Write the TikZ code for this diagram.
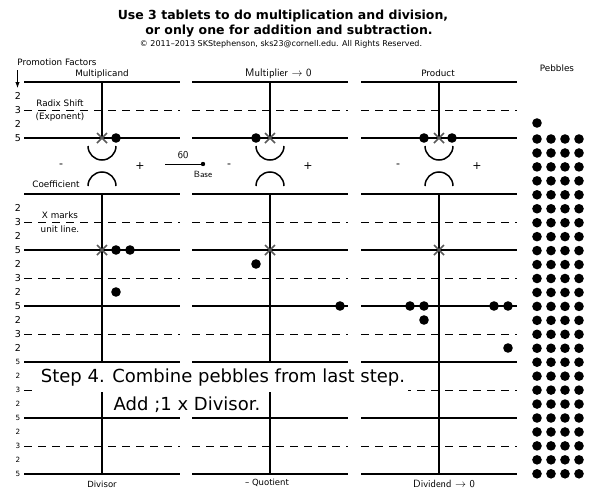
\documentclass[tikz,border=0pt]{standalone}
\usepackage{fontspec}
\setmainfont{DejaVu Sans}
\usetikzlibrary{arrows.meta}
\begin{document}
\begin{tikzpicture}[x=1pt,y=-1pt,
  solidln/.style={line width=1.5pt},
  dashln/.style={line width=0.9pt, dash pattern=on 7.5pt off 6.5pt},
  lbl/.style={inner sep=0pt, font=\fontsize{8.8}{10}\selectfont},
  lms/.style={inner sep=0pt, font=\sffamily\fontsize{11}{12}\selectfont},
  dig/.style={inner sep=0pt, font=\fontsize{9.5}{10}\selectfont},
  digs/.style={inner sep=0pt, font=\fontsize{7.2}{8}\selectfont},
  sgn/.style={inner sep=0pt, font=\fontsize{11}{12}\selectfont},
  xmk/.style={line width=1.5pt, draw=black!65},
  stepbox/.style={fill=white, inner ysep=0pt, font=\fontsize{18}{20}\selectfont}
]
\useasboundingbox (0,0) rectangle (598,493);
% title
\node[inner sep=0pt, font=\bfseries\fontsize{12.5}{14}\selectfont] (t1) at (283,16) {Use 3 tablets to do multiplication and division,};
\node[inner sep=0pt, font=\bfseries\fontsize{12.5}{14}\selectfont] (t2) at (289,31) {or only one for addition and subtraction.};
\node[inner sep=0pt, font=\fontsize{8}{9}\selectfont] (cr) at (281,44) {© 2011–2013 SKStephenson, sks23@cornell.edu. All Rights Reserved.};
% headers
\node[lbl] (pf) at (57,62) {Promotion Factors};
\coordinate (pfa) at (17.5,70);
\coordinate (pfb) at (17.5,88);
\draw[line width=0.9pt, -{Latex[length=6pt,width=4.5pt]}] (pfa) -- (pfb);
\node[lbl] (h1) at (102,74) {Multiplicand};
\node[lms, anchor=west] (h2) at (245,74) {Multiplier $\rightarrow$ 0};
\node[lbl] (h3) at (438,73) {Product};
\node[lbl] (h4) at (557,68) {Pebbles};
% tablets
\foreach \cx in {102,270,439} {
  \draw[solidln] (\cx-78,82) -- (\cx+78,82);
  \draw[dashln] (\cx-78,110) -- (\cx+78,110);
  \draw[solidln] (\cx-78,138) -- (\cx+78,138);
  \draw[solidln] (\cx,82) -- (\cx,138);
  \draw[line width=1.5pt] (\cx-14,146) arc[start angle=180, end angle=0, radius=14];
  \draw[line width=1.5pt] (\cx-14,186) arc[start angle=180, end angle=360, radius=14];
  \foreach \yy in {194,250,306,362,418,474} {\draw[solidln] (\cx-78,\yy) -- (\cx+78,\yy);}
  \foreach \yy in {222,278,334,390,446} {\draw[dashln] (\cx-78,\yy) -- (\cx+78,\yy);}
  \draw[solidln] (\cx,194) -- (\cx,474);
  \draw[xmk] (\cx-5,133) -- (\cx+5,143) (\cx-5,143) -- (\cx+5,133);
  \draw[xmk] (\cx-5,245) -- (\cx+5,255) (\cx-5,255) -- (\cx+5,245);
  \node[sgn] at (\cx-41,166) {-};
  \node[sgn] at (\cx+38,166) {+};
}
% left labels
\node[lbl] (rs1) at (60,103) {Radix Shift};
\node[lbl] (rs2) at (60,117) {(Exponent)};
\node[lbl] (coef) at (56,184) {Coefficient};
\node[lbl] (xm1) at (60,215) {X marks};
\node[lbl] (xm2) at (60,229) {unit line.};
\foreach \yy/\d in {96/2,110/3,124/2,138/5,208/2,222/3,236/2,250/5,264/2,278/3,292/2,306/5,320/2,334/3,348/2} {
  \node[dig] at (18,\yy) {\d};
}
\foreach \yy/\d in {362/5,376/2,390/3,404/2,418/5,432/2,446/3,460/2,474/5} {
  \node[digs] at (18,\yy) {\d};
}
% base
\node[inner sep=0pt, font=\sffamily\fontsize{10.5}{12}\selectfont] (sixty) at (183,155) {60};
\fill (203,164) circle (2.2);
\coordinate (bs) at (165,164);
\coordinate (be) at (203,164);
\draw[line width=0.8pt] (bs) -- (be);
\node[inner sep=0pt, font=\sffamily\fontsize{9}{10}\selectfont] (base) at (203,174) {Base};
% pebbles on tablets
\foreach \px/\py in {116/138, 256/138, 424/138, 452/138, 116/250, 130/250, 116/292, 256/264, 340/306, 410/306, 424/306, 424/320, 494/306, 508/306, 508/348} {
  \fill (\px,\py) circle (4.8);
}
% pebble column
\fill (537,123) circle (4.8);
\foreach \r in {0,...,24} {
  \foreach \c in {0,...,3} {
    \fill (537+14*\c,139+13.95*\r) circle (4.8);
  }
}
% step text
\node[stepbox, inner xsep=6pt, minimum height=25pt] (st2) at (187,404.5) {Add ;1 x Divisor.};
\node[stepbox, inner xsep=2.5pt, minimum height=29pt] (st1) at (223,377.5) {Step 4. Combine pebbles from last step.};
% bottom labels
\node[inner sep=0pt, font=\fontsize{8.5}{9}\selectfont] (b1) at (102,484) {Divisor};
\node[inner sep=0pt, font=\fontsize{8.5}{9}\selectfont] (b2) at (267,483) {– Quotient};
\node[inner sep=0pt, anchor=west, font=\sffamily\fontsize{10.5}{12}\selectfont] (b3) at (413,484) {Dividend $\rightarrow$ 0};
\end{tikzpicture}
\end{document}
